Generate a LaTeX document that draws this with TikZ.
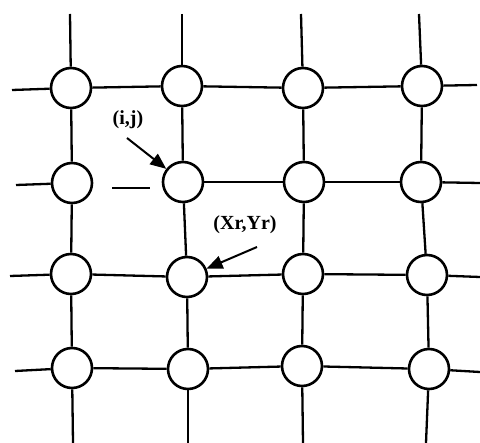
\documentclass[tikz,border=0pt]{standalone}
\usepackage{fontspec}
\setmainfont{Liberation Serif}
\usetikzlibrary{arrows.meta}

\begin{document}
\begin{tikzpicture}[x=1pt,y=-1pt]

\def\diam{40pt}

\tikzset{cell/.style = {draw, circle, fill=white, line width=2.6pt, minimum size=\diam, inner sep=0pt}}
\tikzset{wire/.style = {line width=2.3pt}}
\tikzset{pointer/.style = {line width=2pt, -{Triangle[length=16pt,width=13pt]}}}
\tikzset{tag/.style = {font=\fontsize{20}{23}\selectfont\bfseries, inner sep=0pt}}

\useasboundingbox (0,0) rectangle (480,443);

% lattice points
\node[cell] (C11) at (71,88) {};
\node[cell] (C12) at (182,86) {};
\node[cell] (C13) at (303,88) {};
\node[cell] (C14) at (422,86) {};

\node[cell] (C21) at (72,183) {};
\node[cell] (C22) at (183,182) {};
\node[cell] (C23) at (304,182) {};
\node[cell] (C24) at (421,182) {};

\node[cell] (C31) at (71,274) {};
\node[cell] (C32) at (187,277) {};
\node[cell] (C33) at (303,274) {};
\node[cell] (C34) at (427,275) {};

\node[cell] (C41) at (72,368) {};
\node[cell] (C42) at (188,369) {};
\node[cell] (C43) at (302,366) {};
\node[cell] (C44) at (429,369) {};

% open ends
\coordinate (T1) at (70,14);
\coordinate (T2) at (182,14);
\coordinate (T3) at (301,14);
\coordinate (T4) at (419,14);
\coordinate (B1) at (73,443);
\coordinate (B2) at (188,443);
\coordinate (B3) at (303,443);
\coordinate (B4) at (426,443);
\coordinate (L1) at (12,90);
\coordinate (L2) at (16,185);
\coordinate (L3) at (10,276);
\coordinate (L4) at (15,371);
\coordinate (R1) at (477,85);
\coordinate (R2) at (480,183);
\coordinate (R3) at (480,277);
\coordinate (R4) at (480,372);
\coordinate (S1) at (112,188);
\coordinate (S2) at (150,188);

\draw[wire] (T1) -- (C11);
\draw[wire] (T2) -- (C12);
\draw[wire] (T3) -- (C13);
\draw[wire] (T4) -- (C14);
\draw[wire] (C41) -- (B1);
\draw[wire] (C42) -- (B2);
\draw[wire] (C43) -- (B3);
\draw[wire] (C44) -- (B4);

\draw[wire] (L1) -- (C11);
\draw[wire] (L2) -- (C21);
\draw[wire] (L3) -- (C31);
\draw[wire] (L4) -- (C41);
\draw[wire] (C14) -- (R1);
\draw[wire] (C24) -- (R2);
\draw[wire] (C34) -- (R3);
\draw[wire] (C44) -- (R4);

% rows
\draw[wire] (C11) -- (C12);
\draw[wire] (C12) -- (C13);
\draw[wire] (C13) -- (C14);
\draw[wire] (S1) -- (S2);
\draw[wire] (C22) -- (C23);
\draw[wire] (C23) -- (C24);
\draw[wire] (C31) -- (C32);
\draw[wire] (C32) -- (C33);
\draw[wire] (C33) -- (C34);
\draw[wire] (C41) -- (C42);
\draw[wire] (C42) -- (C43);
\draw[wire] (C43) -- (C44);

% columns
\draw[wire] (C11) -- (C21);
\draw[wire] (C21) -- (C31);
\draw[wire] (C31) -- (C41);
\draw[wire] (C12) -- (C22);
\draw[wire] (C22) -- (C32);
\draw[wire] (C32) -- (C42);
\draw[wire] (C13) -- (C23);
\draw[wire] (C23) -- (C33);
\draw[wire] (C33) -- (C43);
\draw[wire] (C14) -- (C24);
\draw[wire] (C24) -- (C34);
\draw[wire] (C34) -- (C44);

% labels
\node[tag] (ij) at (128,120) {(i,j)};
\node[tag] (xy) at (245,225) {(Xr,Yr)};
\coordinate (ijtail) at (127,138);
\coordinate (xytail) at (257,247);
\draw[pointer] (ijtail) -- (C22);
\draw[pointer] (xytail) -- (C32);

\end{tikzpicture}
\end{document}
